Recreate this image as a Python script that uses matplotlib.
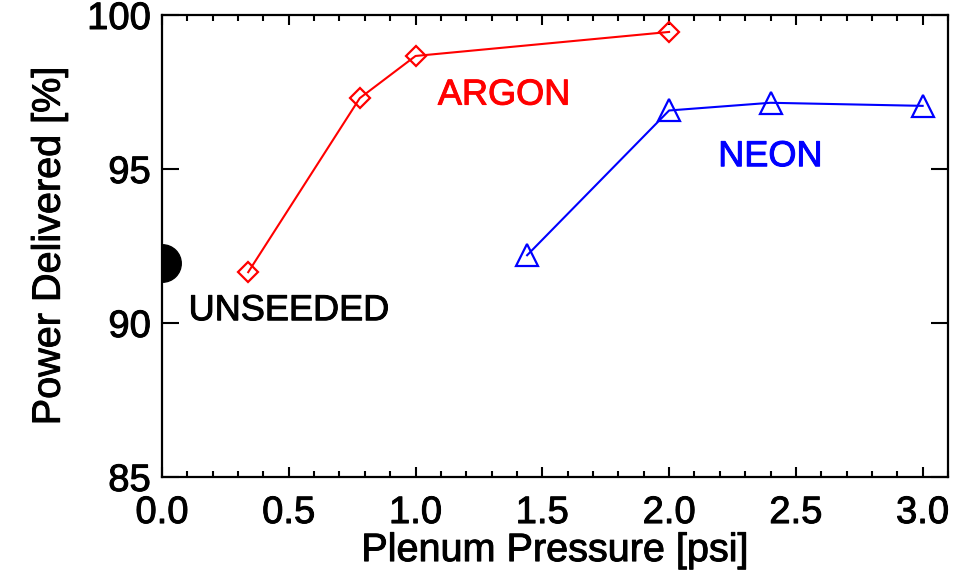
import matplotlib
matplotlib.use("Agg")
import matplotlib.pyplot as plt
import matplotlib.patheffects as pe
from matplotlib.ticker import MultipleLocator

# data
argon_p = [0.34, 0.78, 1.0, 2.0]
argon_pow = [91.65, 97.3, 98.67, 99.45]
neon_p = [1.44, 2.0, 2.4, 3.0]
neon_pow = [92.2, 96.9, 97.15, 97.05]
unseeded_p = [0.0]
unseeded_pow = [91.95]

plt.rcParams['font.family'] = ['Liberation Sans', 'DejaVu Sans']

fig = plt.figure(figsize=(9.66, 5.81), dpi=100)
ax = fig.add_axes([162 / 966, 1 - 477 / 581, (948 - 162) / 966, (477 - 15) / 581])

ax.plot(argon_p, argon_pow, color='red', lw=1.5, marker='D', ms=10,
        mfc='none', mec='red', mew=1.6)
ax.plot(neon_p, neon_pow, color='blue', lw=1.5, marker='^', ms=16,
        mfc='none', mec='blue', mew=1.6)
ax.plot(unseeded_p, unseeded_pow, 'o', color='black', ms=27, clip_on=True)

# slightly heavier strokes, like the reference's font
heavy = [pe.withStroke(linewidth=0.7, foreground='black')]

ax.text(1.35, 97.4, 'ARGON', color='red', fontsize=26, ha='center', va='center',
        path_effects=[pe.withStroke(linewidth=0.7, foreground='red')])
ax.text(2.4, 95.4, 'NEON', color='blue', fontsize=26, ha='center', va='center',
        path_effects=[pe.withStroke(linewidth=0.7, foreground='blue')])
ax.text(0.105, 90.4, 'UNSEEDED', color='black', fontsize=26, ha='left', va='center',
        path_effects=heavy)

ax.set_xlim(0, 3.1)
ax.set_ylim(85, 100)
ax.xaxis.set_major_locator(MultipleLocator(0.5))
ax.xaxis.set_minor_locator(MultipleLocator(0.1))
ax.yaxis.set_major_locator(MultipleLocator(5))
ax.xaxis.set_major_formatter(plt.FuncFormatter(lambda v, p: f'{v:.1f}'))
ax.yaxis.set_major_formatter(plt.FuncFormatter(lambda v, p: f'{v:.0f}'))

ax.tick_params(which='both', direction='in', top=True, right=True, width=1.5,
               labelsize=27.5)
ax.tick_params(axis='x', which='major', length=7, pad=13)
ax.tick_params(axis='x', which='minor', length=4)
ax.tick_params(axis='y', which='major', length=12, pad=8)
for s in ax.spines.values():
    s.set_linewidth(1.6)
for lab in ax.get_xticklabels() + ax.get_yticklabels():
    lab.set_path_effects(heavy)

ax.set_xlabel('Plenum Pressure [psi]', fontsize=28.5, labelpad=0, path_effects=heavy)
ax.set_ylabel('Power Delivered [%]', fontsize=28.5, labelpad=14, path_effects=heavy)

fig.savefig('out.png', dpi=100)
